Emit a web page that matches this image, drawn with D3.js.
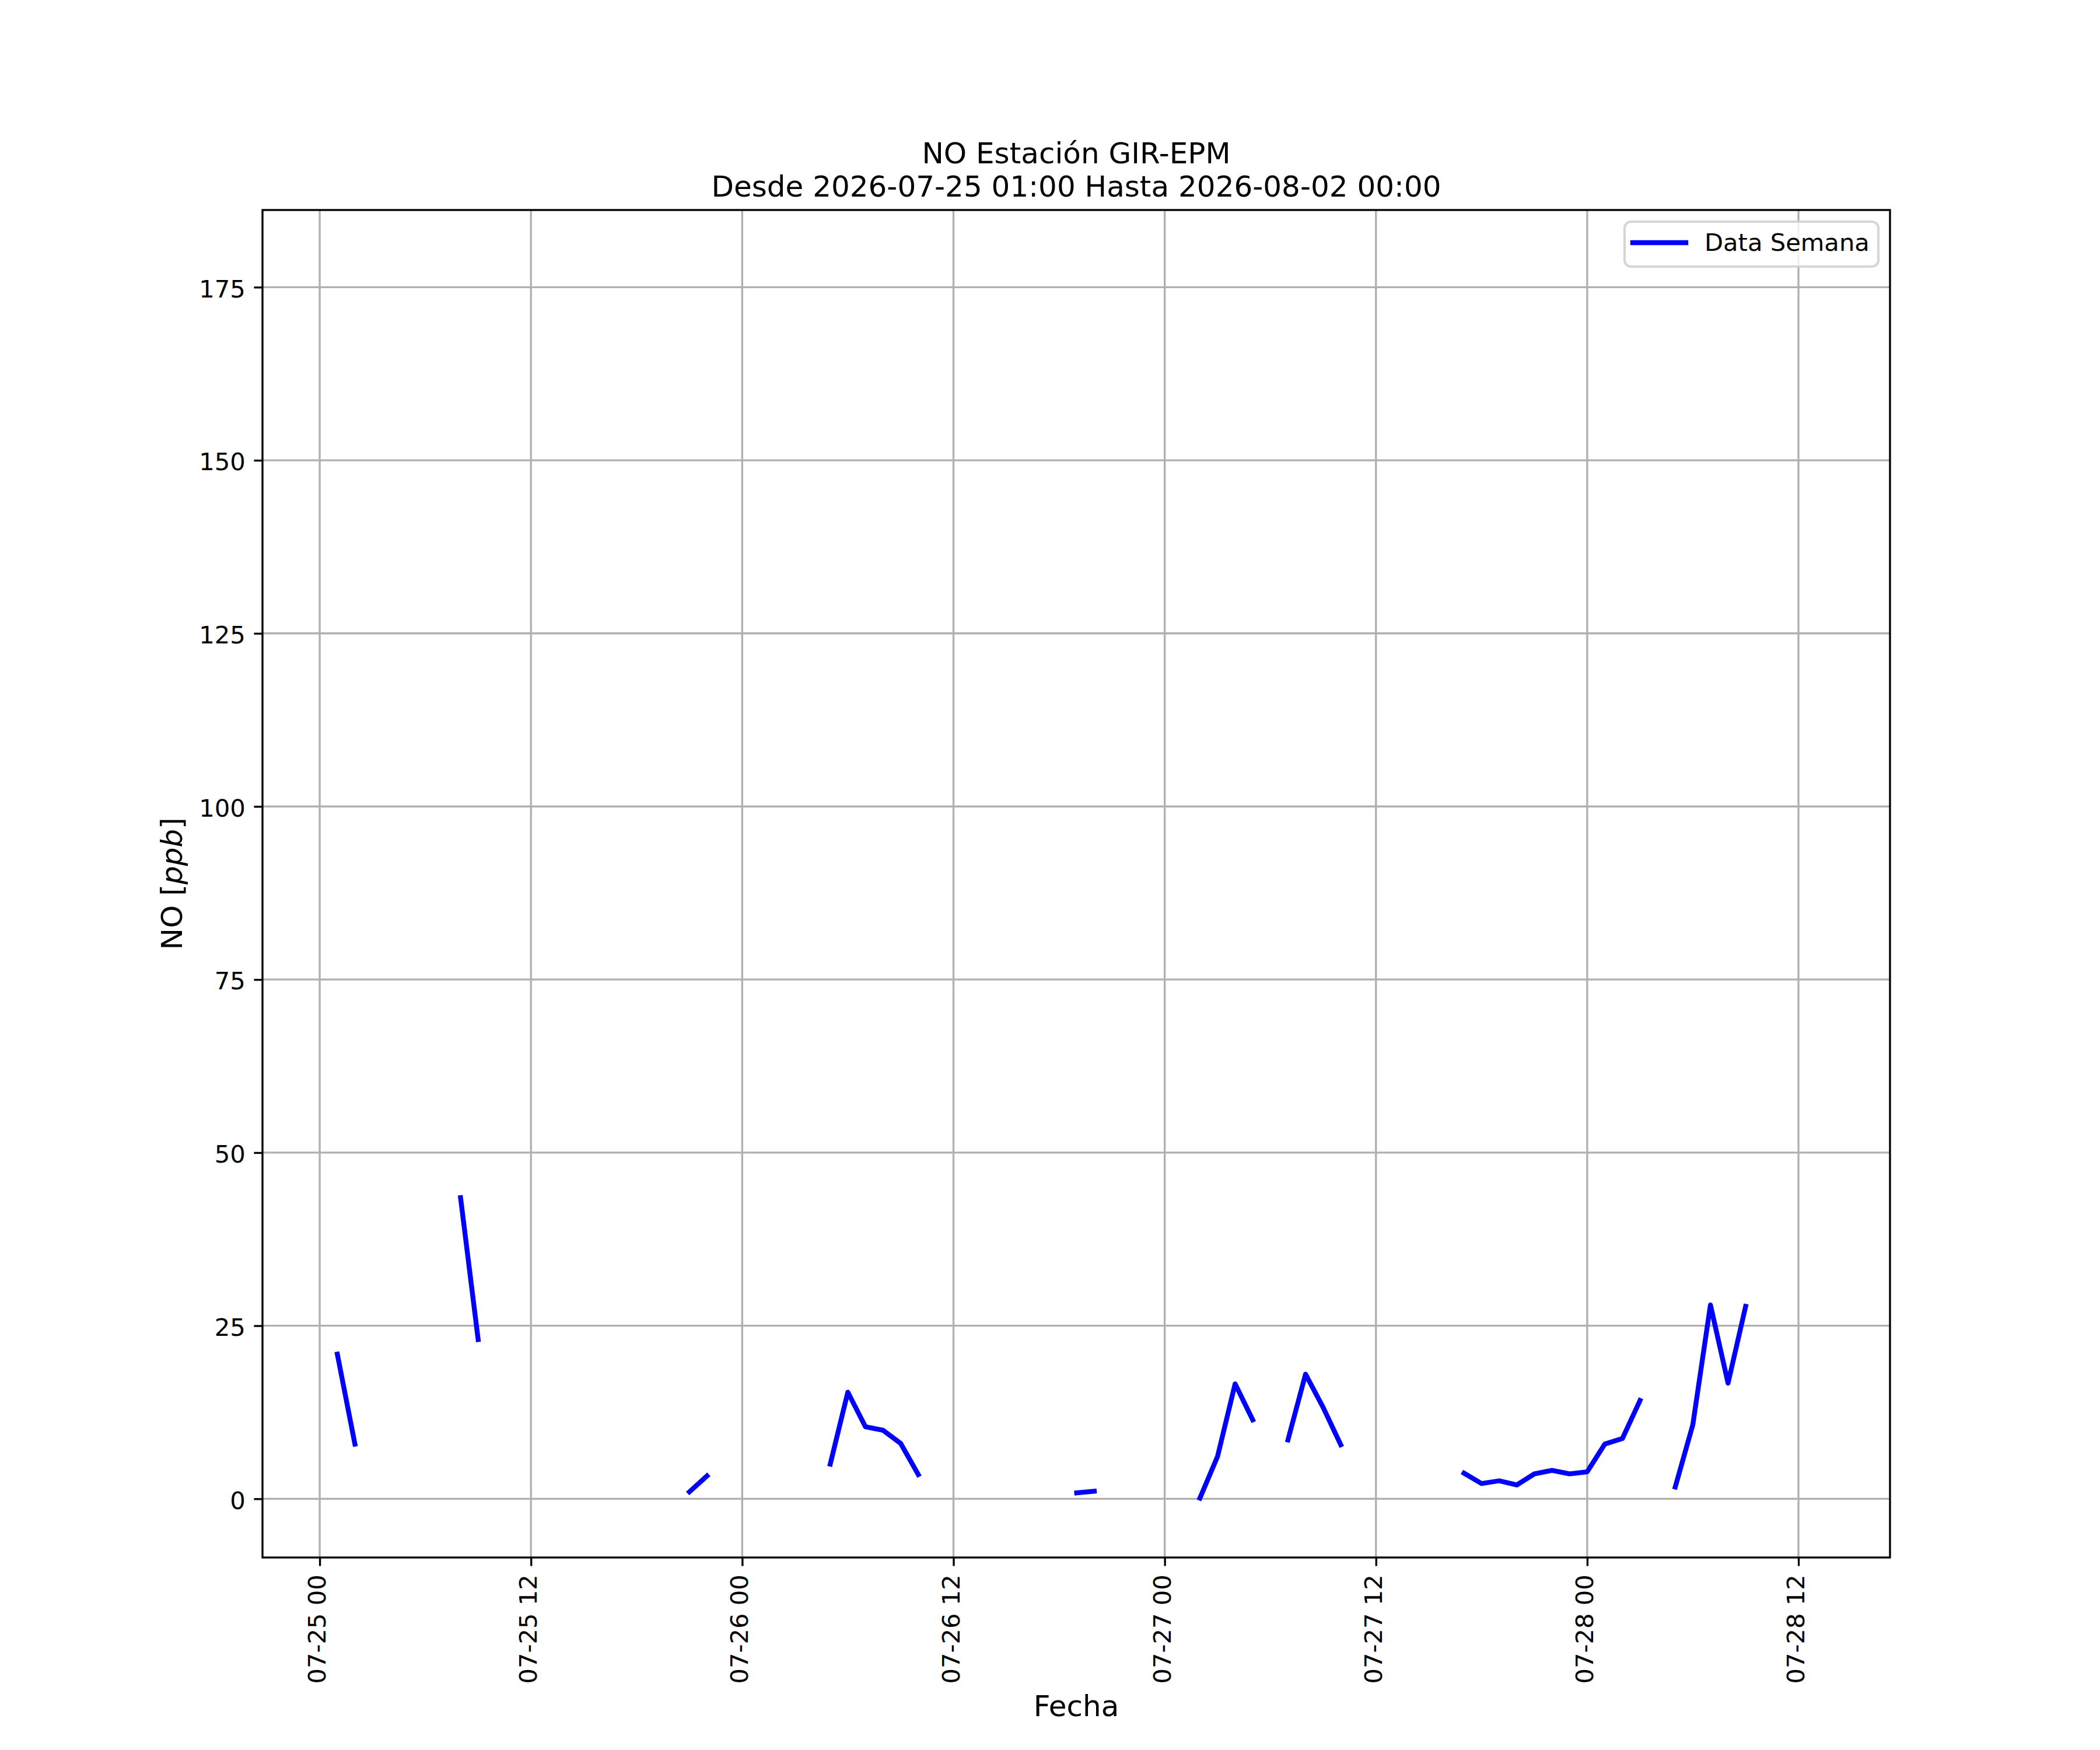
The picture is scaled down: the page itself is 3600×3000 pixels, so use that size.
<!DOCTYPE html>
<html>
<head>
<meta charset="utf-8">
<script src="https://cdn.jsdelivr.net/npm/d3@7"></script>
<style>
  body { margin: 0; background: #fff; }
  text { font-family: "DejaVu Sans", sans-serif; fill: #000; }
</style>
</head>
<body>
<div id="chart"></div>
<script>
// hourly readings starting 2026-07-25 01:00 (null = no data)
const startTime = '2026-07-25 01:00';
const noValues = [
  20.9, 7.9, null, null, null, null, null, 43.5, 23.0,
  null, null, null, null, null, null, null, null, null, null, null,
  1.0, 3.3, null, null, null, null, null, null,
  5.0, 15.4, 10.4, 9.9, 8.0, 3.5,
  null, null, null, null, null, null, null, null,
  0.85, 1.1, null, null, null, null, null,
  0.1, 6.1, 16.6, 11.4, null,
  8.5, 18.0, 13.2, 7.8,
  null, null, null, null, null, null,
  3.7, 2.2, 2.6, 2.0, 3.6, 4.1, 3.6, 3.9, 7.9, 8.7, 14.2,
  null,
  1.7, 10.7, 28.0, 16.7, 27.8,
  null, null, null, null
];
const xLimits = ['2026-07-24 20:45', '2026-07-28 17:12'];
const yLimits = [-8.48, 186.15];
const yTicks = [0, 25, 50, 75, 100, 125, 150, 175];
const titleLines = ['NO Estación GIR-EPM', 'Desde 2026-07-25 01:00 Hasta 2026-08-02 00:00'];
const legendLabel = 'Data Semana';

const parseTime = d3.utcParse('%Y-%m-%d %H:%M');
const t0 = parseTime(startTime);
const data = noValues.map((v, i) => ({ date: d3.utcHour.offset(t0, i), value: v }));

const width = 3600;
const height = 3000;
const area = { left: 450, right: 3240, top: 360, bottom: 2670 };
const pt = 300 / 72;

const svg = d3.select('#chart')
  .append('svg')
  .attr('width', width)
  .attr('height', height)
  .attr('viewBox', `0 0 ${width} ${height}`);

svg.append('rect').attr('width', width).attr('height', height).attr('fill', '#fff');

const xScale = d3.scaleUtc()
  .domain(xLimits.map(parseTime))
  .range([area.left, area.right]);

const yScale = d3.scaleLinear()
  .domain(yLimits)
  .range([area.bottom, area.top]);

const xTicks = d3.utcHour.every(12).range(xScale.domain()[0], xScale.domain()[1]);
const tickFmt = d3.utcFormat('%m-%d %H');

// gridlines
const grid = svg.append('g').attr('stroke', '#b0b0b0').attr('stroke-width', 0.8 * pt);
grid.selectAll('.gx')
  .data(xTicks)
  .join('line')
  .attr('x1', (d) => xScale(d)).attr('x2', (d) => xScale(d))
  .attr('y1', area.top).attr('y2', area.bottom);
grid.selectAll('.gy')
  .data(yTicks)
  .join('line')
  .attr('y1', (d) => yScale(d)).attr('y2', (d) => yScale(d))
  .attr('x1', area.left).attr('x2', area.right);

// data line
const line = d3.line()
  .defined((d) => d.value !== null)
  .x((d) => xScale(d.date))
  .y((d) => yScale(d.value));

svg.append('path')
  .datum(data)
  .attr('fill', 'none')
  .attr('stroke', '#0000ff')
  .attr('stroke-width', 2 * pt)
  .attr('stroke-linecap', 'square')
  .attr('stroke-linejoin', 'round')
  .attr('d', line);

// axes
const xAxis = d3.axisBottom(xScale)
  .tickValues(xTicks)
  .tickFormat(tickFmt)
  .tickSize(3.5 * pt)
  .tickPadding(3.5 * pt);

const gx = svg.append('g')
  .attr('transform', `translate(0, ${area.bottom})`)
  .call(xAxis);
gx.select('.domain').remove();
gx.selectAll('line').attr('stroke', '#000').attr('stroke-width', 0.8 * pt);
gx.selectAll('text')
  .attr('font-size', 10 * pt)
  .attr('text-anchor', 'end')
  .attr('transform', 'rotate(-90)')
  .attr('x', -7 * pt)
  .attr('y', 0)
  .attr('dy', '0.23em');

const yAxis = d3.axisLeft(yScale)
  .tickValues(yTicks)
  .tickSize(3.5 * pt)
  .tickPadding(3.5 * pt);

const gy = svg.append('g')
  .attr('transform', `translate(${area.left}, 0)`)
  .call(yAxis);
gy.select('.domain').remove();
gy.selectAll('line').attr('stroke', '#000').attr('stroke-width', 0.8 * pt);
gy.selectAll('text').attr('font-size', 10 * pt).attr('dy', '0.4em');

// frame
svg.append('rect')
  .attr('x', area.left).attr('y', area.top)
  .attr('width', area.right - area.left)
  .attr('height', area.bottom - area.top)
  .attr('fill', 'none')
  .attr('stroke', '#000')
  .attr('stroke-width', 0.8 * pt);

// labels
const cx = (area.left + area.right) / 2;
const cy = (area.top + area.bottom) / 2;

svg.append('text')
  .attr('x', cx).attr('y', 2942)
  .attr('text-anchor', 'middle')
  .attr('font-size', 12 * pt)
  .text('Fecha');

const yl = svg.append('text')
  .attr('transform', `translate(312, ${cy}) rotate(-90)`)
  .attr('text-anchor', 'middle')
  .attr('font-size', 12 * pt);
yl.append('tspan').text('NO [');
yl.append('tspan').attr('font-style', 'italic').text('ppb');
yl.append('tspan').text(']');

svg.selectAll('.title')
  .data(titleLines)
  .join('text')
  .attr('x', cx)
  .attr('y', (d, i) => 280 + i * 57)
  .attr('text-anchor', 'middle')
  .attr('font-size', 12 * pt)
  .text((d) => d);

// legend
const legend = svg.append('g');
legend.append('rect')
  .attr('x', 2785).attr('y', 380)
  .attr('width', 435).attr('height', 77)
  .attr('rx', 11)
  .attr('fill', '#fff').attr('fill-opacity', 0.8)
  .attr('stroke', '#cccccc').attr('stroke-opacity', 0.8)
  .attr('stroke-width', 1 * pt);
legend.append('line')
  .attr('x1', 2799).attr('x2', 2890)
  .attr('y1', 416).attr('y2', 416)
  .attr('stroke', '#0000ff')
  .attr('stroke-width', 2 * pt)
  .attr('stroke-linecap', 'square');
legend.append('text')
  .attr('x', 2922).attr('y', 430)
  .attr('font-size', 10 * pt)
  .text(legendLabel);
</script>
</body>
</html>
